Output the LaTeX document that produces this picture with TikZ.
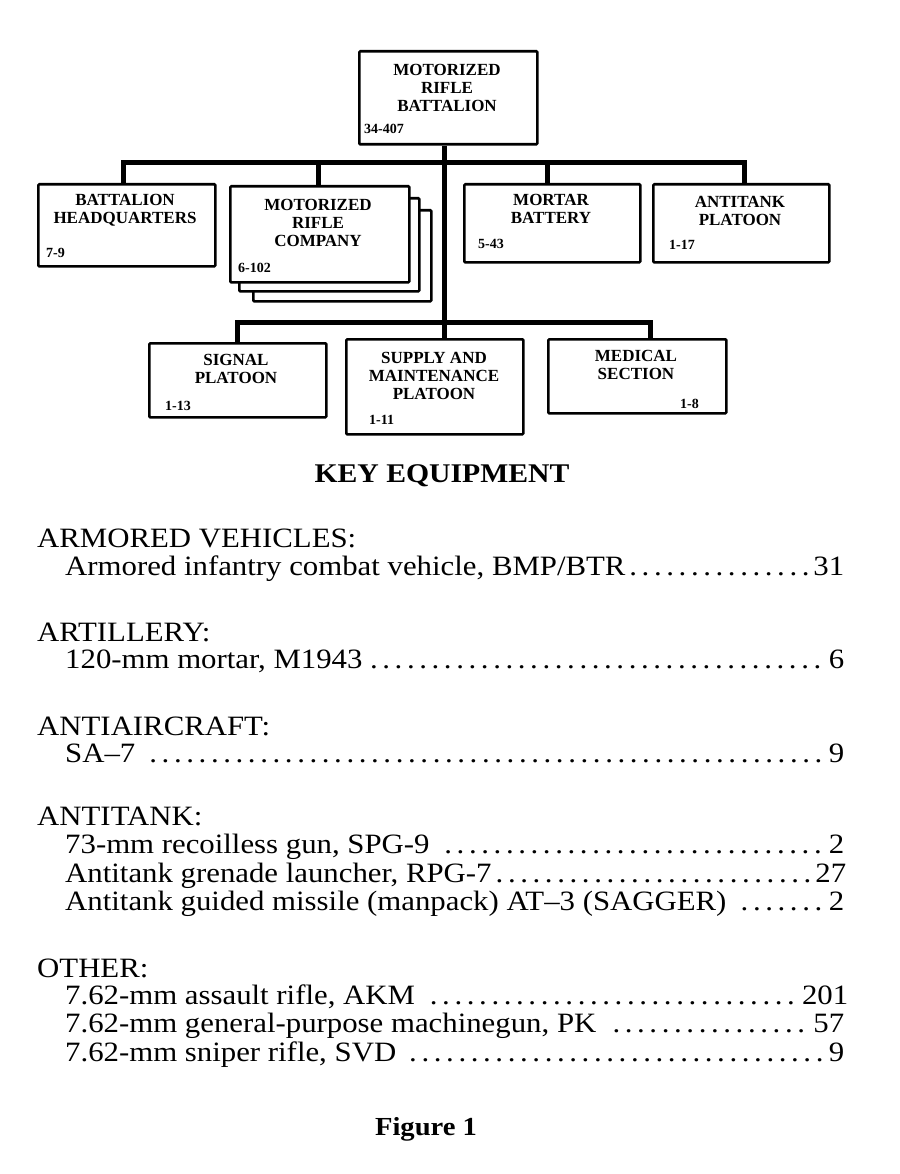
\documentclass[tikz,border=0pt]{standalone}
\usepackage{fontspec}
\setmainfont{Liberation Serif}
\newfontfamily\bodyfont[FakeStretch=1.1,Ligatures=TeX]{Liberation Serif}
\usetikzlibrary{calc}
\begin{document}
\begin{tikzpicture}[x=1pt,y=-1pt,
  orgbox/.style={draw, line width=2.6pt, fill=white, inner sep=0pt, anchor=north west, rounded corners=1pt},
  boxtxt/.style={font=\bfseries\fontsize{17}{18}\selectfont, align=center, inner sep=0pt, anchor=north},
  numtxt/.style={font=\bfseries\fontsize{14}{15}\selectfont, inner sep=0pt, anchor=base west},
  conn/.style={line width=5pt, line join=miter},
  hdr/.style={font=\bodyfont\fontsize{28}{30}\selectfont, inner sep=0pt, anchor=base west},
  itemline/.style={font=\bodyfont\fontsize{28}{30}\selectfont, inner sep=0pt, anchor=base west},
  titletxt/.style={font=\bodyfont\bfseries\fontsize{27}{29}\selectfont, inner sep=0pt, anchor=base}
]
\useasboundingbox (0,0) rectangle (899,1174);
\fill[white] (0,0) rectangle (899,1174);

% coordinates for buses
\coordinate (bus1) at (0,163);
\coordinate (bus2) at (0,322);
\coordinate (trunk) at (444,0);

% top box
\node[orgbox, minimum width=178pt, minimum height=93pt] (bat) at (358,50) {};
\node[boxtxt] (battxt) at (447,64) {MOTORIZED\\RIFLE\\BATTALION};
\node[numtxt] (batnum) at (364,134) {34-407};

% second row
\node[orgbox, minimum width=177pt, minimum height=82pt] (hq) at (37,183) {};
\node[boxtxt] at (125,194) {BATTALION\\HEADQUARTERS};
\node[numtxt] at (46,257) {7-9};

\node[orgbox, minimum width=178pt, minimum height=91pt] (mrc3) at (252,209) {};
\node[orgbox, minimum width=180pt, minimum height=93pt] (mrc2) at (238,197) {};
\node[orgbox, minimum width=179pt, minimum height=96pt] (mrc) at (229,185) {};
\node[boxtxt] at (318,199) {MOTORIZED\\RIFLE\\COMPANY};
\node[numtxt] at (238,272) {6-102};

\node[orgbox, minimum width=176pt, minimum height=78pt] (mort) at (463,183) {};
\node[boxtxt] at (551,194) {MORTAR\\BATTERY};
\node[numtxt] at (478,248) {5-43};

\node[orgbox, minimum width=176pt, minimum height=78pt] (at) at (652,183) {};
\node[boxtxt] at (740,196) {ANTITANK\\PLATOON};
\node[numtxt] at (669,250) {1-17};

% third row
\node[orgbox, minimum width=177pt, minimum height=74pt] (sig) at (148,342) {};
\node[boxtxt] at (236,354) {SIGNAL\\PLATOON};
\node[numtxt] at (165,410) {1-13};

\node[orgbox, minimum width=177pt, minimum height=95pt] (sup) at (345,338) {};
\node[boxtxt] at (434,352) {SUPPLY AND\\MAINTENANCE\\PLATOON};
\node[numtxt] at (369,424) {1-11};

\node[orgbox, minimum width=178pt, minimum height=74pt] (med) at (547,338) {};
\node[boxtxt] at (636,350) {MEDICAL\\SECTION};
\node[numtxt] at (680,408) {1-8};

% drop points
\coordinate (hqtop) at ($(hq.north west)+(86,0)$);
\coordinate (mrctop) at ($(mrc.north west)+(89,0)$);
\coordinate (morttop) at ($(mort.north west)+(84,0)$);
\coordinate (attop) at ($(at.north west)+(92,0)$);
\coordinate (sigtop) at ($(sig.north west)+(89,0)$);
\coordinate (medtop) at ($(med.north west)+(103,0)$);

% connectors
\draw[conn] (hqtop) |- (attop |- bus1) -- (attop);
\draw[conn] (mrctop) -- (mrctop |- bus1);
\draw[conn] (morttop) -- (morttop |- bus1);
\draw[conn] (bat.south -| trunk) -- (trunk |- bus2);
\draw[conn] (sigtop) |- (medtop |- bus2) -- (medtop);
\draw[conn] (sup.north -| trunk) -- (trunk |- bus2);

% key equipment
\node[titletxt] (key) at (442,482) {KEY EQUIPMENT};

\node[hdr] (h1) at (37,547) {ARMORED VEHICLES:};
\node[itemline] (i11) at (65,575) {\makebox[779pt][l]{Armored infantry combat vehicle, BMP/BTR\dotfill 31}};

\node[hdr] (h2) at (37,641) {ARTILLERY:};
\node[itemline] (i21) at (65,668) {\makebox[779pt][l]{120-mm mortar, M1943\dotfill 6}};

\node[hdr] (h3) at (37,735) {ANTIAIRCRAFT:};
\node[itemline] (i31) at (65,762) {\makebox[779pt][l]{SA–7 \dotfill 9}};

\node[hdr] (h4) at (37,825) {ANTITANK:};
\node[itemline] (i41) at (65,853) {\makebox[779pt][l]{73-mm recoilless gun, SPG-9 \dotfill 2}};
\node[itemline] (i42) at (65,882) {\makebox[781pt][l]{Antitank grenade launcher, RPG-7\dotfill 27}};
\node[itemline] (i43) at (65,910) {\makebox[779pt][l]{Antitank guided missile (manpack) AT–3 (SAGGER) \dotfill 2}};

\node[hdr] (h5) at (37,977) {OTHER:};
\node[itemline] (i51) at (65,1004) {\makebox[783pt][l]{7.62-mm assault rifle, AKM \dotfill 201}};
\node[itemline] (i52) at (65,1032) {\makebox[779pt][l]{7.62-mm general-purpose machinegun, PK \dotfill 57}};
\node[itemline] (i53) at (65,1061) {\makebox[779pt][l]{7.62-mm sniper rifle, SVD \dotfill 9}};

\node[titletxt, font=\bodyfont\bfseries\fontsize{26}{28}\selectfont] (fig) at (426,1135) {Figure 1};
\end{tikzpicture}
\end{document}
